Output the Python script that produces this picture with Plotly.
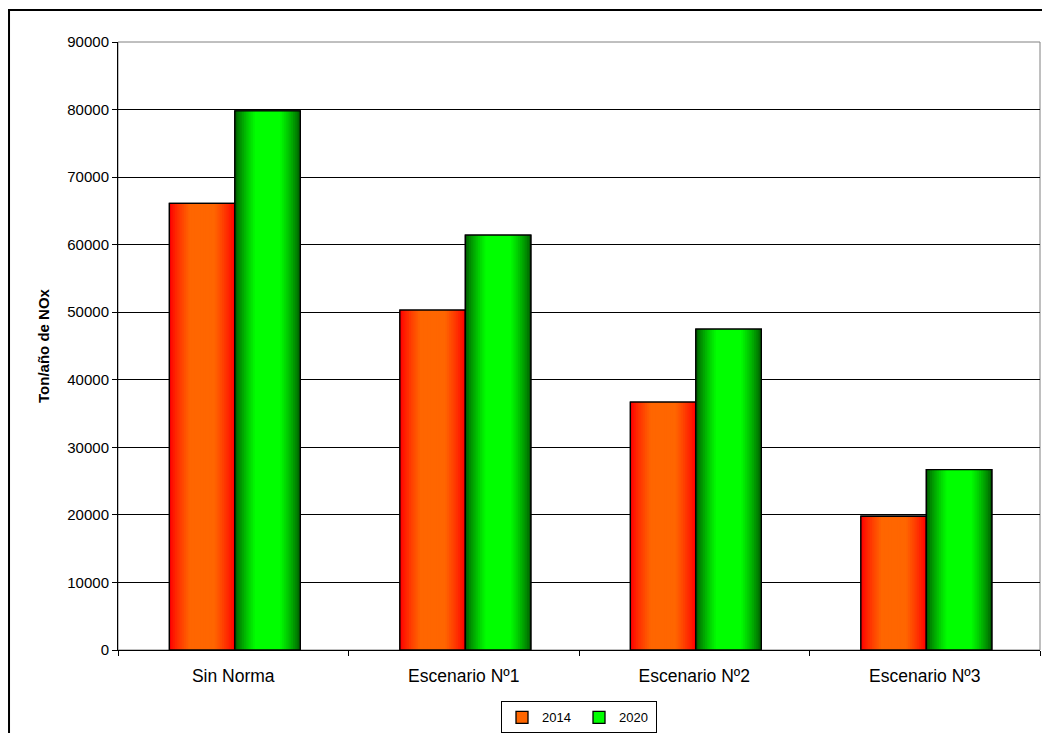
import plotly.graph_objects as go

categories = ["Sin Norma", "Escenario Nº1", "Escenario Nº2", "Escenario Nº3"]
series_names = ["2014", "2020"]
values_2014 = [66100, 50300, 36700, 19800]
values_2020 = [79800, 61400, 47500, 26700]
y_title = "Ton/año de NOx"

FONT = "Liberation Sans, Arial, sans-serif"
W = 0.284          # width of one bar (category units)
SHIFT = 0.007
N_LAYERS = 18

# (edge colour, centre colour)
palettes = {
    "2014": ((255, 0, 0), (255, 102, 0)),
    "2020": ((0, 95, 0), (0, 255, 0)),
}


def mix(c1, c2, t):
    return "rgb(%d,%d,%d)" % tuple(round(a + (b - a) * t) for a, b in zip(c1, c2))


fig = go.Figure()

for name, vals, center in [("2014", values_2014, -W / 2 + SHIFT),
                           ("2020", values_2020, W / 2 + SHIFT)]:
    edge, mid = palettes[name]
    # legend / base trace
    fig.add_trace(go.Bar(
        x=categories, y=vals, name=name,
        offset=center - W / 2, width=W,
        marker=dict(color=mix(edge, mid, 1.0), line=dict(color="black", width=1.3)),
        hoverinfo="skip", showlegend=True,
    ))
    # gradient layers (nested, narrower on top)
    for k in range(N_LAYERS):
        f = 1 - k / N_LAYERS
        t = min(1.0, max(0.0, (1 - f) / 0.6))
        t = t ** 0.8
        w = W * f
        fig.add_trace(go.Bar(
            x=categories, y=vals, name=name,
            offset=center - w / 2, width=w,
            marker=dict(color=mix(edge, mid, t), line=dict(width=0)),
            hoverinfo="skip", showlegend=False,
        ))
    # outline on top
    fig.add_trace(go.Bar(
        x=categories, y=vals, name=name,
        offset=center - W / 2, width=W,
        marker=dict(color="rgba(0,0,0,0)", line=dict(color="black", width=1.3)),
        hovertemplate="%{x}<br>" + name + ": %{y}<extra></extra>", showlegend=False,
    ))

fig.update_layout(
    width=1050, height=733,
    barmode="overlay",
    paper_bgcolor="white", plot_bgcolor="white",
    margin=dict(l=110, r=18, t=34, b=91),
    font=dict(family=FONT, color="black", size=13),
    showlegend=True,
    legend=dict(
        orientation="h", x=0.5, xanchor="center",
        yref="container", y=0.054, yanchor="top",
        bordercolor="black", borderwidth=1, bgcolor="white",
        font=dict(size=13, family=FONT), itemwidth=30,
        entrywidth=32, entrywidthmode="pixels",
        tracegroupgap=0,
    ),
    xaxis=dict(
        showline=True, linecolor="black", linewidth=1,
        ticks="outside", tickson="boundaries", ticklen=5, tickcolor="black",
        showgrid=False, tickfont=dict(size=17.5, family=FONT),
        ticklabelstandoff=10, automargin=False,
    ),
    yaxis=dict(
        range=[0, 90000], dtick=10000, tickformat="d",
        showline=True, linecolor="black", linewidth=1,
        ticks="outside", ticklen=5, tickcolor="black",
        showgrid=True, gridcolor="black", gridwidth=1,
        tickfont=dict(size=15, family=FONT),
        title=dict(text="<b>" + y_title + "</b>", font=dict(size=15, family=FONT), standoff=14),
        zeroline=False, automargin=False,
    ),
    shapes=[
        dict(type="rect", xref="paper", yref="paper", x0=0, x1=1, y0=0, y1=1,
             line=dict(color="#808080", width=1), fillcolor="rgba(0,0,0,0)", layer="below"),
        dict(type="rect", xref="paper", yref="paper", x0=-0.1182, x1=1.03, y0=-0.16, y1=1.0526,
             line=dict(color="black", width=2), fillcolor="rgba(0,0,0,0)"),
    ],
)

fig.write_html("out.html")
